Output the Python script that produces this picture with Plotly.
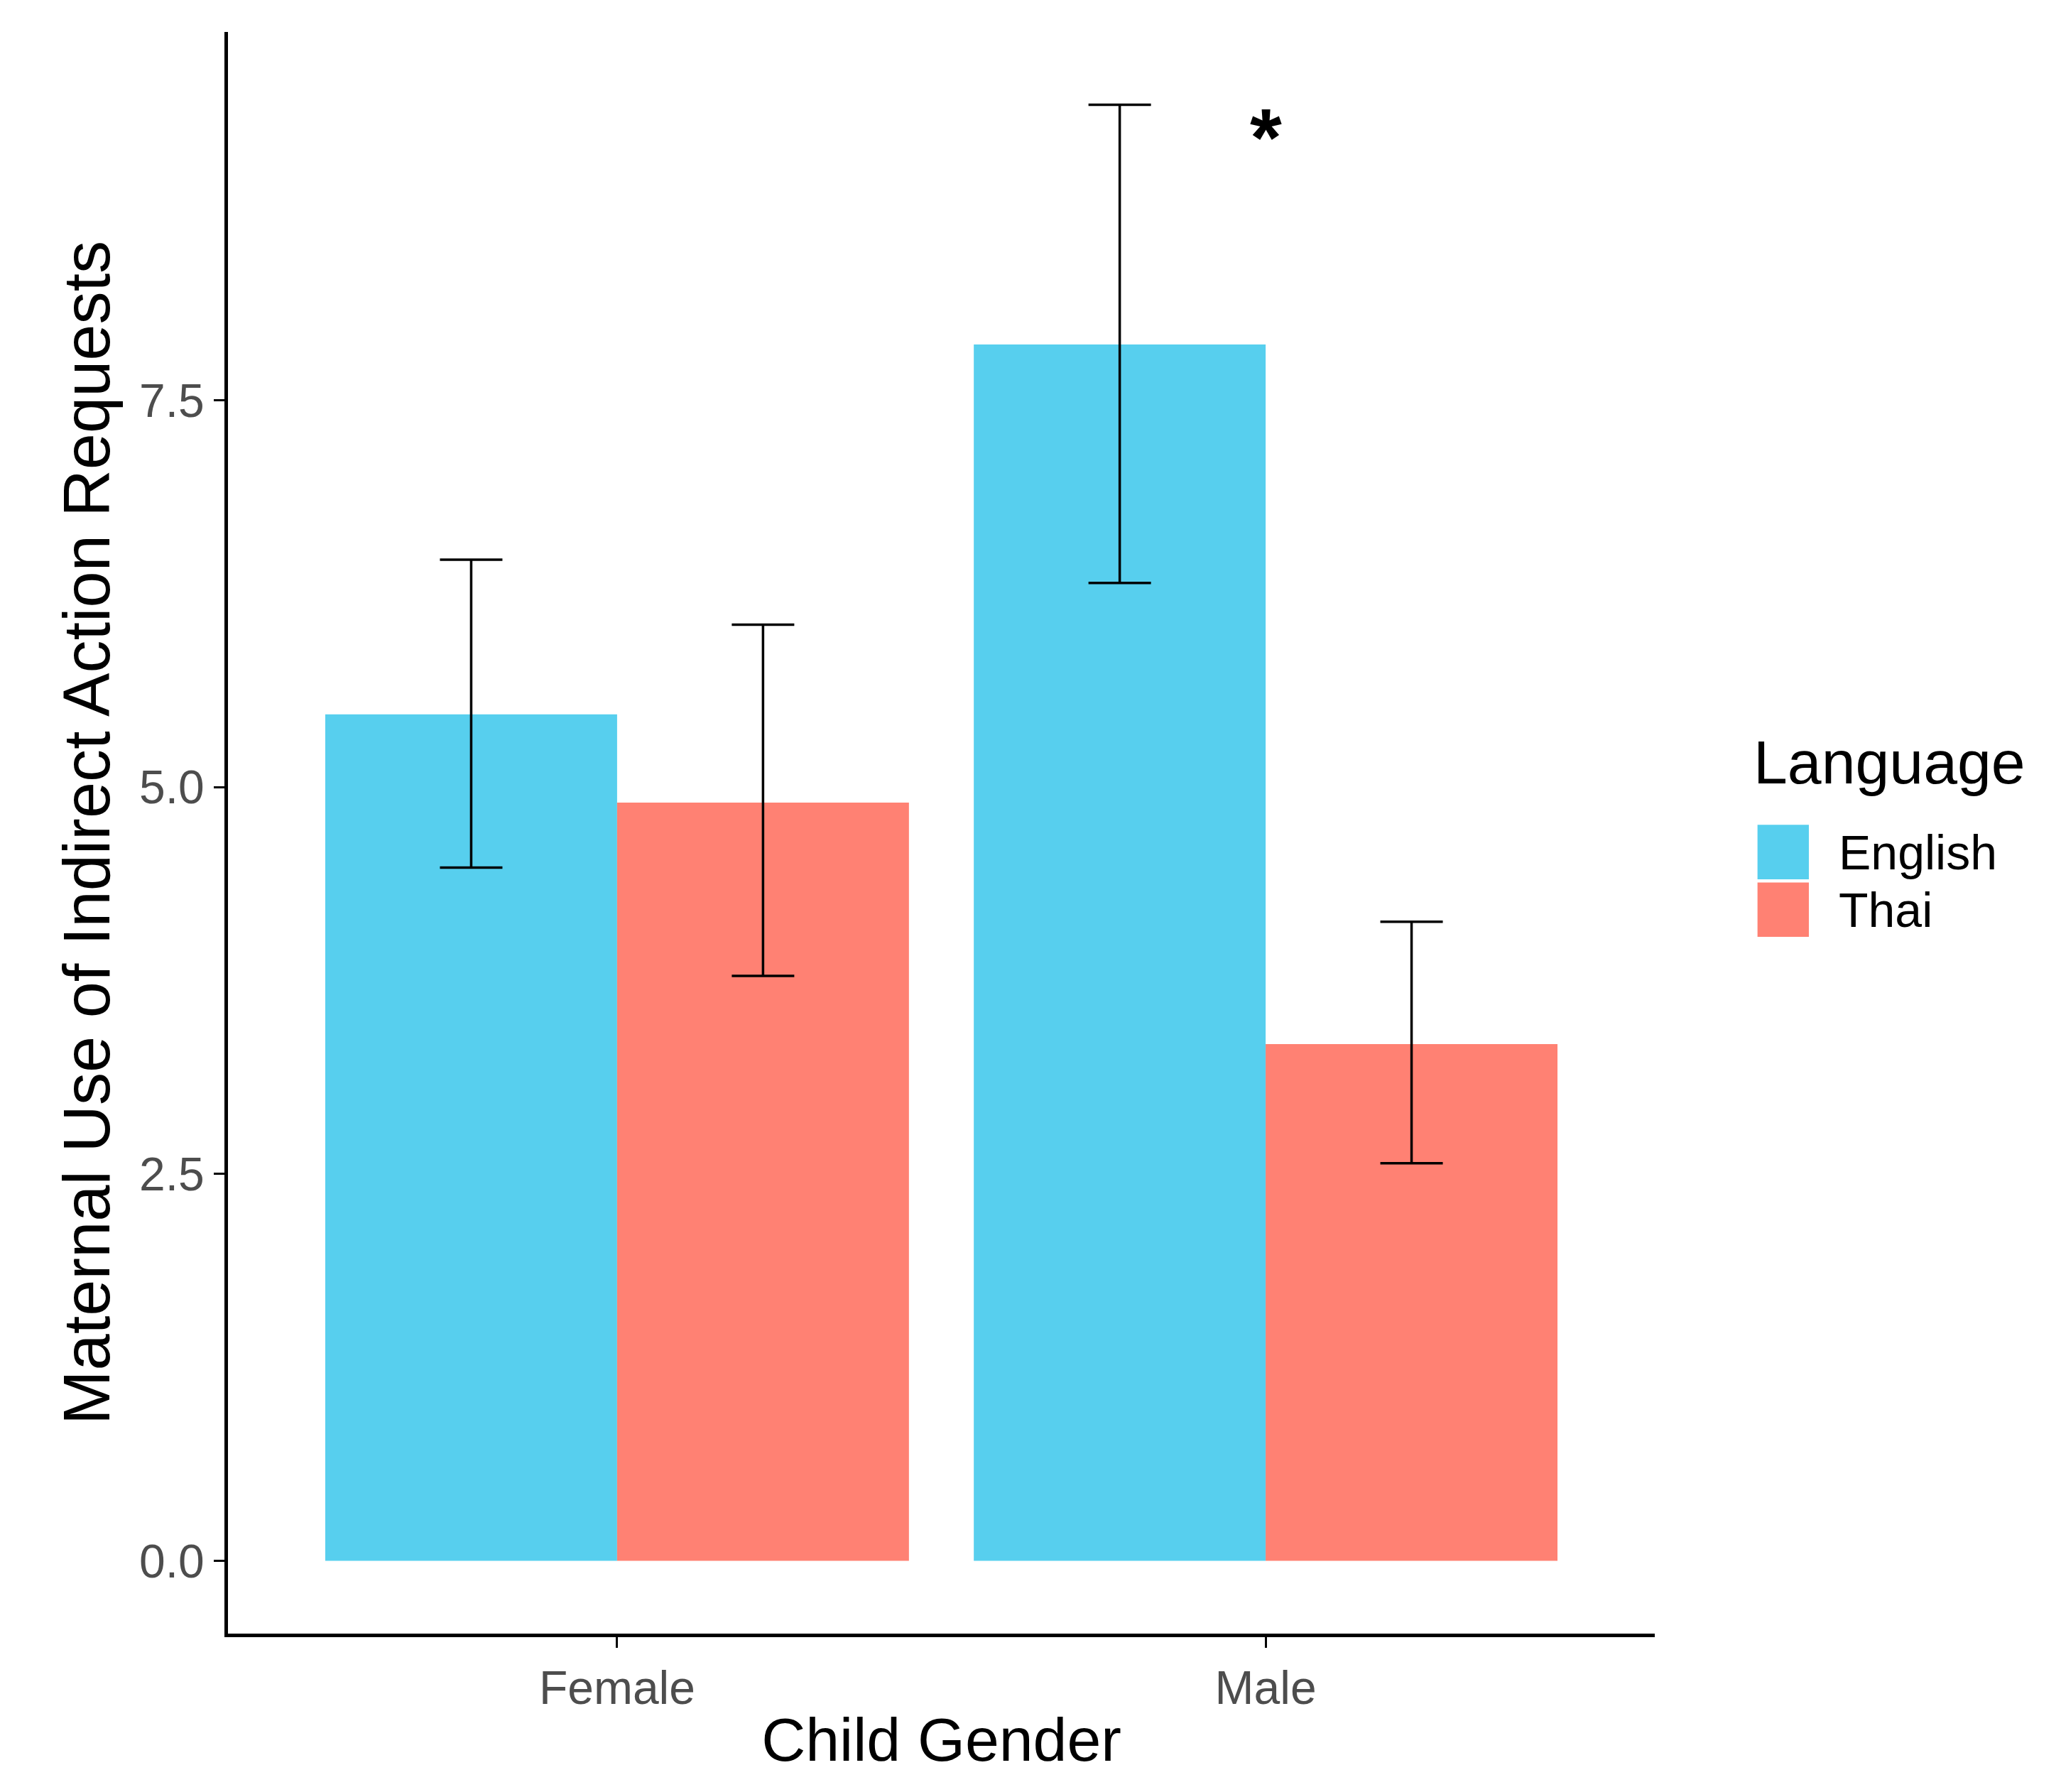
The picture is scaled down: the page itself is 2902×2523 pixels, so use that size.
import plotly.graph_objects as go

genders = ["Female", "Male"]
languages = ["English", "Thai"]
colors = ["#57CFEE", "#FF8173"]
english = [5.47, 7.86]
english_hi = [6.47, 9.41]
english_lo = [4.48, 6.32]
thai = [4.90, 3.34]
thai_hi = [6.05, 4.13]
thai_lo = [3.78, 2.57]

fig = go.Figure()
for name, vals, hi, lo, col in [("English", english, english_hi, english_lo, colors[0]),
                                ("Thai", thai, thai_hi, thai_lo, colors[1])]:
    fig.add_trace(go.Bar(
        x=genders, y=vals, name=name, marker_color=col, marker_line_width=0,
        showlegend=False,
        error_y=dict(type="data", symmetric=False,
                     array=[h - v for h, v in zip(hi, vals)],
                     arrayminus=[v - l for l, v in zip(lo, vals)],
                     color="black", thickness=3.5, width=44),
    ))

fig.add_annotation(x="Male", y=9.2, text="<b>*</b>", showarrow=False,
                   font=dict(size=115, color="black", family="Liberation Sans"))

# manual legend with large square keys
fig.add_annotation(xref="paper", yref="paper", x=1.068, y=0.544, xanchor="left",
                   text="Language", showarrow=False, font=dict(size=86))
for i, (lang, col) in enumerate(zip(languages, colors)):
    top = 0.505 - i * 0.036
    fig.add_shape(type="rect", xref="paper", yref="paper", x0=1.072, x1=1.108,
                  y0=top - 0.034, y1=top, fillcolor=col, line_width=0)
    fig.add_annotation(xref="paper", yref="paper", x=1.128, y=top - 0.017,
                       xanchor="left", text=lang, showarrow=False, font=dict(size=68))

fig.update_layout(
    barmode="group", bargap=0.1, bargroupgap=0,
    width=2902, height=2523,
    plot_bgcolor="white", paper_bgcolor="white",
    margin=dict(l=313, r=580, t=37, b=231),
    font=dict(family="Liberation Sans", color="black"),
    showlegend=False,
)
fig.update_xaxes(range=[-0.6, 1.6], showline=True, linecolor="black", linewidth=5,
                 ticks="outside", ticklen=15, tickwidth=3, tickcolor="black",
                 tickfont=dict(size=66, color="#4D4D4D"),
                 title=dict(text="Child Gender", font=dict(size=86), standoff=8))
fig.update_yaxes(range=[-0.47, 9.88], showline=True, linecolor="black", linewidth=5,
                 showgrid=False, zeroline=False,
                 ticks="outside", ticklen=15, tickwidth=3, tickcolor="black",
                 tickvals=[0, 2.5, 5, 7.5], ticktext=["0.0", "2.5", "5.0", "7.5"],
                 tickfont=dict(size=66, color="#4D4D4D"),
                 title=dict(text="Maternal Use of Indirect Action Requests",
                            font=dict(size=92), standoff=12))

fig.write_html("out.html")
